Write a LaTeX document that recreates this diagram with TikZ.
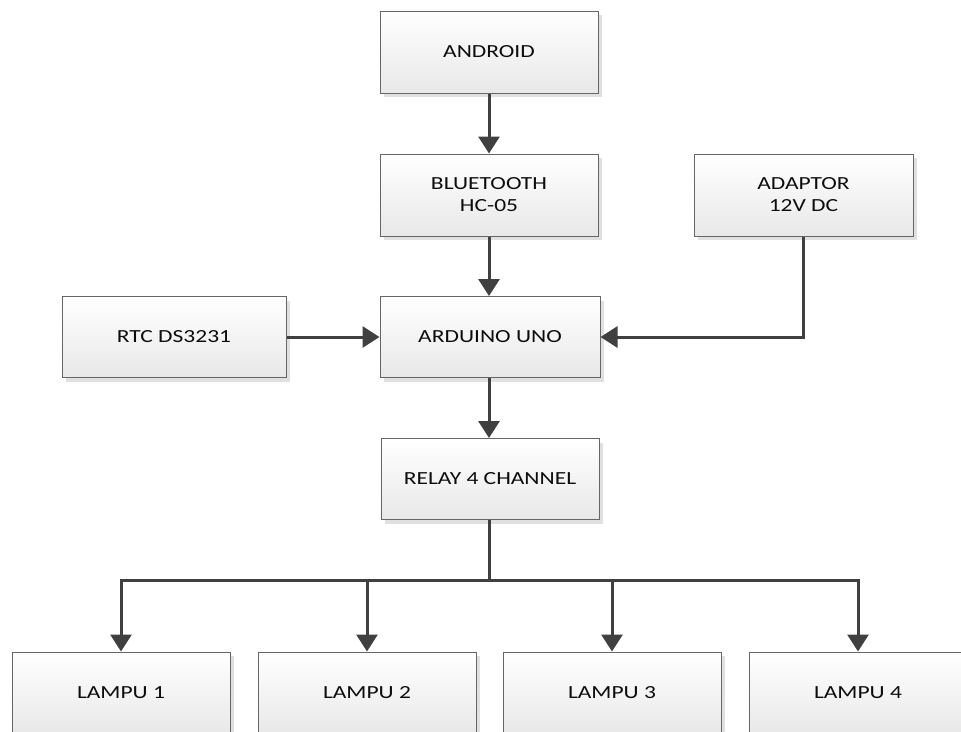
\documentclass[tikz,border=0pt]{standalone}
\usepackage{fontspec}
\setmainfont{Carlito}[FakeStretch=1.27]
\usetikzlibrary{arrows.meta,shadows}

\definecolor{dialinecolor}{rgb}{0.250000, 0.250000, 0.250000}
\definecolor{boxlinecolor}{rgb}{0.400000, 0.400000, 0.400000}
\definecolor{boxtextcolor}{rgb}{0.050000, 0.050000, 0.050000}

\tikzset{
  blok/.style={draw=boxlinecolor, line width=1pt, top color=white, bottom color=black!9,
    minimum width=218pt, minimum height=82pt, inner sep=0pt, align=center,
    text=boxtextcolor, font=\fontsize{18.5pt}{22pt}\selectfont,
    drop shadow={shadow xshift=4pt, shadow yshift=-4pt, fill=black!12, opacity=1}},
  panah/.style={draw=dialinecolor, line width=3pt, -{Triangle[length=17pt,width=21pt]}},
  garis/.style={draw=dialinecolor, line width=3pt}
}

\begin{document}
\begin{tikzpicture}[x=1pt,y=-1pt]
\useasboundingbox (0,0) rectangle (961,731);
\clip (0,0) rectangle (961,731);
% blok atas
\node[blok] (android) at (489,52) {ANDROID};
\node[blok] (bluetooth) at (489,195) {BLUETOOTH\\HC-05};
\node[blok, minimum width=219pt] (adaptor) at (803.5,195) {ADAPTOR\\12V DC};
% blok tengah
\node[blok, minimum width=224pt, minimum height=81pt] (rtc) at (174,337) {RTC DS3231};
\node[blok, minimum width=220pt, minimum height=81pt] (arduino) at (490,337) {ARDUINO UNO};
\node[blok, minimum height=81pt] (relay) at (490,479) {RELAY 4 CHANNEL};
% lampu
\node[blok] (lampu1) at (121,693) {LAMPU 1};
\node[blok] (lampu2) at (367,693) {LAMPU 2};
\node[blok] (lampu3) at (612,693) {LAMPU 3};
\node[blok] (lampu4) at (858,693) {LAMPU 4};
\coordinate (bus) at (489,580);
% panah
\draw[panah] (android) -- (bluetooth);
\draw[panah] (bluetooth) -- (arduino.north -| bluetooth);
\draw[panah] (rtc) -- (arduino);
\draw[panah] (adaptor) |- (arduino);
\draw[panah] (arduino.south -| bus) -- (relay.north -| bus);
\draw[garis] (relay.south -| bus) -- (bus);
\foreach \i in {1,...,4}
  \draw[panah] (bus) -| (lampu\i.north);
\end{tikzpicture}
\end{document}
